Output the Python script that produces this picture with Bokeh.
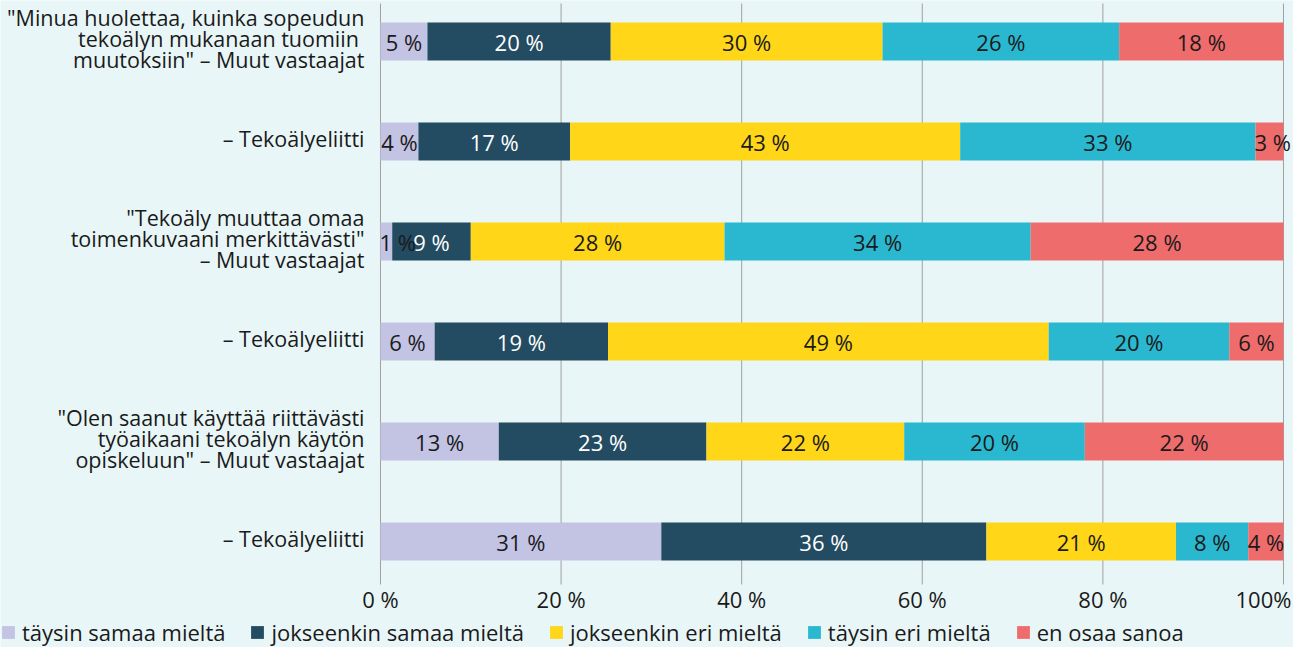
from bokeh.plotting import figure
from bokeh.models import (ColumnDataSource, Range1d, Legend, LegendItem)
from bokeh.core.properties import value
from bokeh.embed import file_html
from bokeh.resources import INLINE

# ---------------- data ----------------
categories = [
    "\"Minua huolettaa, kuinka sopeudun\ntekoälyn mukanaan tuomiin \nmuutoksiin\" – Muut vastaajat",
    "– Tekoälyeliitti",
    "\"Tekoäly muuttaa omaa\ntoimenkuvaani merkittävästi\"\n– Muut vastaajat",
    "– Tekoälyeliitti",
    "\"Olen saanut käyttää riittävästi\ntyöaikaani tekoälyn käytön\nopiskeluun\" – Muut vastaajat",
    "– Tekoälyeliitti",
]
series_names = ["täysin samaa mieltä", "jokseenkin samaa mieltä",
                "jokseenkin eri mieltä", "täysin eri mieltä", "en osaa sanoa"]
taysin_samaa = [5.2, 4.2, 1.3, 6.0, 13.1, 31.1]
jokseenkin_samaa = [20.3, 16.8, 8.7, 19.2, 23.0, 36.0]
jokseenkin_eri = [30.1, 43.2, 28.1, 48.8, 21.9, 21.0]
taysin_eri = [26.2, 32.7, 33.9, 20.0, 20.0, 8.0]
en_osaa = [18.2, 3.1, 28.0, 6.0, 22.0, 3.9]
x_ticks = [0, 20, 40, 60, 80, 100]
x_tick_labels = ["0 %", "20 %", "40 %", "60 %", "80 %", "100%"]

series = [taysin_samaa, jokseenkin_samaa, jokseenkin_eri, taysin_eri, en_osaa]
colors = ["#C3C3E4", "#234B61", "#FFD618", "#2AB8D0", "#EF6C6C"]
text_colors = ["#1A1A1A", "#FFFFFF", "#1A1A1A", "#1A1A1A", "#1A1A1A"]
BG = "#E8F6F7"
FONT = "Open Sans"
TXT = "#1A1A1A"

ypos = list(range(len(categories)))
GRID_TOP, GRID_BOTTOM = -0.38, 5.43
TICK_Y = 5.575

# frame spans the whole figure; 0 % sits at 380 px, 100 % at 1283 px
p = figure(width=1293, height=647, output_backend="svg", toolbar_location=None,
           x_range=Range1d(-42.08, 101.11), y_range=Range1d(6.06, -0.41),
           min_border=0)
p.background_fill_color = BG
p.border_fill_color = BG
p.outline_line_color = None
p.xaxis.visible = False
p.yaxis.visible = False
p.xgrid.grid_line_color = None
p.ygrid.grid_line_color = None

# vertical grid lines
gsrc = ColumnDataSource(dict(x=x_ticks, y0=[GRID_TOP] * len(x_ticks),
                             y1=[GRID_BOTTOM] * len(x_ticks)))
p.segment(x0="x", y0="y0", x1="x", y1="y1", source=gsrc,
          line_color="#A0A0A0", line_width=1)

# stacked bars
left = [0.0] * len(categories)
items = []
lab_x, lab_y, lab_t, lab_c = [], [], [], []
for name, vals, col, tcol in zip(series_names, series, colors, text_colors):
    right = [l + v for l, v in zip(left, vals)]
    src = ColumnDataSource(dict(y=ypos, left=left, right=right))
    r = p.hbar(y="y", left="left", right="right", height=0.38, source=src,
               fill_color=col, line_color=None)
    items.append(LegendItem(label=name, renderers=[r]))
    for i, v in enumerate(vals):
        lab_x.append(max((left[i] + right[i]) / 2, left[i] + 1.9))
        lab_y.append(ypos[i])
        lab_t.append(f"{round(v)} %")
        lab_c.append(tcol)
    left = right

lsrc = ColumnDataSource(dict(x=lab_x, y=lab_y, t=lab_t, c=lab_c))
p.text(x="x", y="y", text="t", source=lsrc, text_color="c",
       text_align="center", text_baseline="middle",
       text_font=value(FONT), text_font_size="22px")

# x tick labels (last one nudged left so it stays inside the page)
tick_offsets = [0, 0, 0, 0, 0, -20]
tsrc = ColumnDataSource(dict(x=x_ticks, y=[TICK_Y] * len(x_ticks),
                             t=x_tick_labels, dx=tick_offsets))
p.text(x="x", y="y", text="t", source=tsrc, text_color=TXT, x_offset="dx",
       text_align="center", text_baseline="middle",
       text_font=value(FONT), text_font_size="22px")

# category labels
csrc = ColumnDataSource(dict(x=[0] * len(categories), y=ypos, t=categories))
p.text(x="x", y="y", text="t", source=csrc, text_color=TXT,
       text_align="right", text_baseline="middle", x_offset=-16, y_offset=-3,
       text_line_height=0.74,
       text_font=value(FONT), text_font_size="21.5px")

legend = Legend(items=items, orientation="horizontal", location=(0, 0),
                glyph_width=16, glyph_height=16, label_standoff=6, spacing=24,
                label_height=16, padding=0, margin=0, border_line_color=None,
                background_fill_alpha=0,
                label_text_font=FONT, label_text_font_size="22px",
                label_text_color=TXT)
p.add_layout(legend)

open("out.html", "w").write(file_html(p, INLINE))
